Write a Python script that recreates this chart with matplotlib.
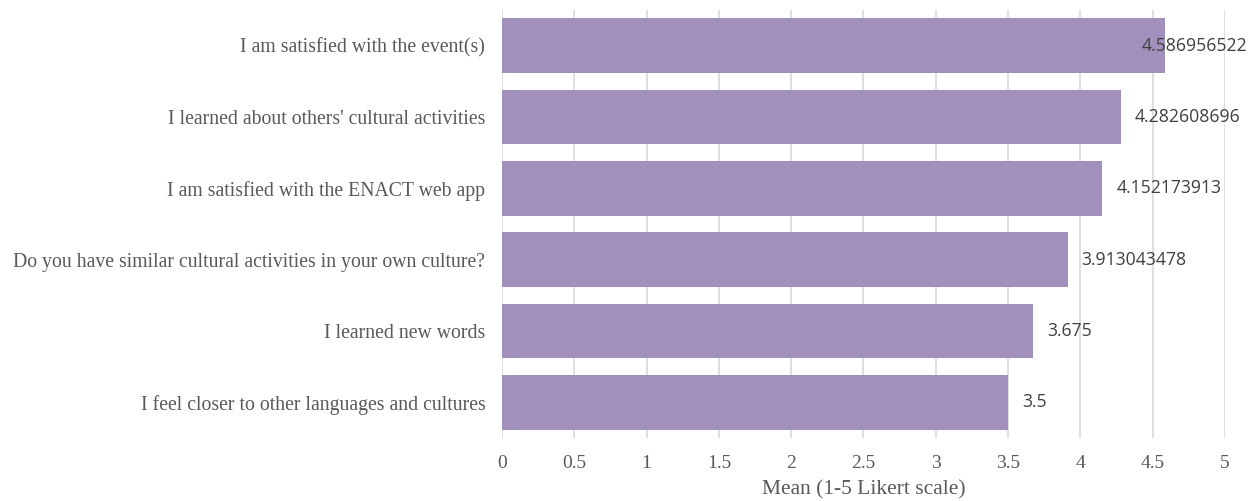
import matplotlib

matplotlib.use("Agg")
from matplotlib import pyplot as plt
from matplotlib import transforms

# top-to-bottom order as shown in the chart
categories = [
    "I am satisfied with the event(s)",
    "I learned about others' cultural activities",
    "I am satisfied with the ENACT web app",
    "Do you have similar cultural activities in your own culture?",
    "I learned new words",
    "I feel closer to other languages and cultures",
]
means = [4.586956522, 4.282608696, 4.152173913, 3.913043478, 3.675, 3.5]
value_labels = ["4.586956522", "4.282608696", "4.152173913", "3.913043478", "3.675", "3.5"]
xticks = [0, 0.5, 1, 1.5, 2, 2.5, 3, 3.5, 4, 4.5, 5]
xtick_labels = ["0", "0.5", "1", "1.5", "2", "2.5", "3", "3.5", "4", "4.5", "5"]

BAR = "#a290bc"
GRID = "#d9d9d9"
TXT = "#595959"
SERIF = ["Liberation Serif", "DejaVu Serif"]

fig = plt.figure(figsize=(12.55, 5.01), dpi=100)
ax = fig.add_axes([0.4, 0.1257, 0.576, 0.8543])

ypos = list(range(len(categories)))
ax.barh(ypos, means, height=0.77, color=BAR, zorder=2)
ax.set_ylim(len(categories) - 0.5, -0.5)
ax.set_xlim(0, 5)

ax.set_xticks(xticks)
ax.set_xticklabels(xtick_labels, family=SERIF, fontsize=14, color=TXT)
ax.set_yticks(ypos)
ax.set_yticklabels(categories, family=SERIF, fontsize=14.2, color=TXT)
ax.tick_params(axis="x", length=0, pad=12)
ax.tick_params(axis="y", length=0, pad=12)
ax.grid(axis="x", color=GRID, linewidth=1.2, zorder=0)
for s in ax.spines.values():
    s.set_visible(False)

ax.set_xlabel("Mean (1-5 Likert scale)", family=SERIF, fontsize=15.5, color=TXT, labelpad=6)

# value labels; the longest bar's label is pulled back inside the chart edge
edge = transforms.blended_transform_factory(ax.transAxes, ax.transData)
for y, v, lab in zip(ypos, means, value_labels):
    if v > 4.5:
        ax.text(1.031, y, lab, transform=edge, ha="right", va="center",
                family="Open Sans", fontsize=12.7, color="#404040", zorder=3)
    else:
        ax.annotate(lab, (v, y), xytext=(10, 0), textcoords="offset points",
                    ha="left", va="center", family="Open Sans", fontsize=12.7,
                    color="#404040", zorder=3)

fig.savefig("out.png", dpi=100)
